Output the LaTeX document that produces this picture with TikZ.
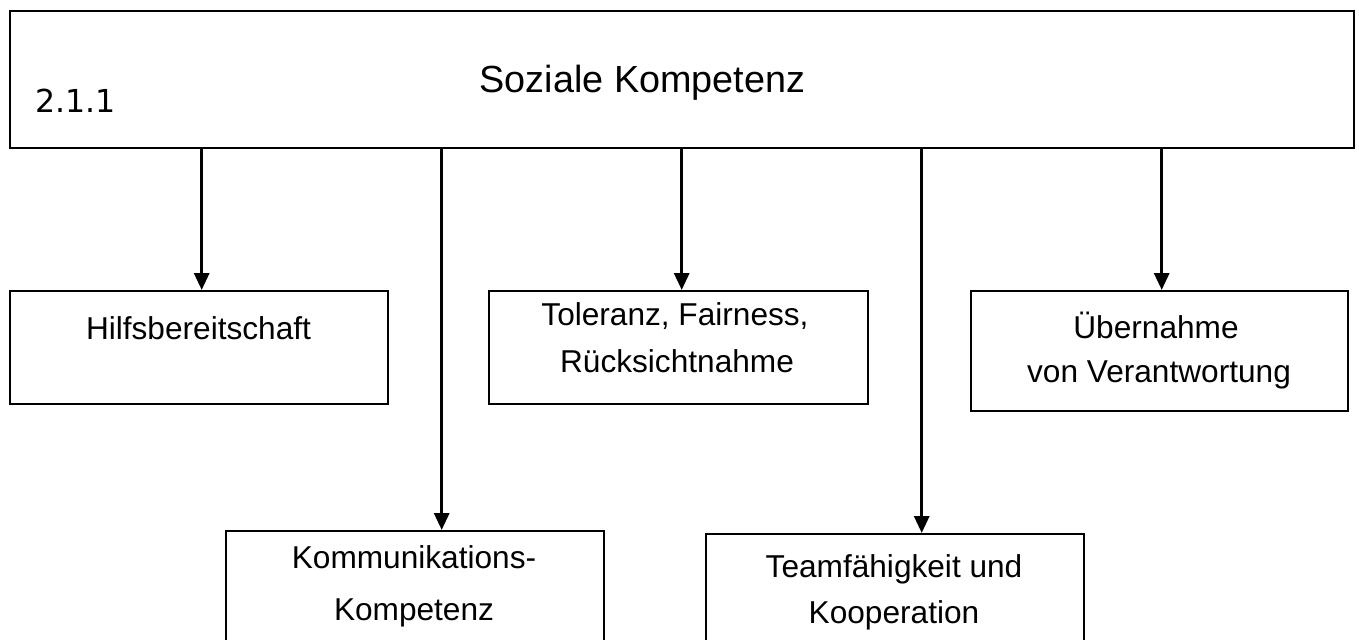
\documentclass[tikz,border=0pt]{standalone}
\usepackage{fontspec}
\setmainfont{Liberation Sans}
\newfontfamily\numfont{DejaVu Sans}
\usetikzlibrary{arrows.meta}

\begin{document}
\begin{tikzpicture}[x=0.02cm,y=-0.02cm,
	box/.style={shape=rectangle,draw=black,line width=1pt,anchor=north west,inner sep=0pt},
	lbl/.style={anchor=base,inner sep=0pt,font=\fontsize{18}{22}\selectfont},
	arr/.style={-{Triangle[length=0.34cm,width=0.3cm]},line width=1.8pt}]
	\path[use as bounding box,clip] (0,0) rectangle (1359,639);

	\node[box,minimum width=26.88cm,minimum height=2.74cm] (top) at (9,10) {};
	\node[box,minimum width=7.56cm,minimum height=2.26cm] (hilfs) at (9,290) {};
	\node[box,minimum width=7.58cm,minimum height=2.26cm] (tol) at (488,290) {};
	\node[box,minimum width=7.54cm,minimum height=2.4cm] (uebern) at (970,290) {};
	\node[box,minimum width=7.56cm,minimum height=2.6cm] (komm) at (225,530) {};
	\node[box,minimum width=7.56cm,minimum height=2.6cm] (team) at (705,533) {};

	\node[anchor=base,inner sep=0pt,font=\fontsize{21.5}{26}\selectfont] (title) at (642.5,92) {Soziale Kompetenz};
	\node[anchor=base west,inner sep=0pt,font=\numfont\fontsize{18}{21}\selectfont] (num) at (35,112) {2.1.1};
	\node[lbl] (hilfs1) at (198.5,339) {Hilfsbereitschaft};
	\node[lbl] (tol1) at (675,325) {Toleranz, Fairness,};
	\node[lbl] (tol2) at (677,372) {Rücksichtnahme};
	\node[lbl] (uebern1) at (1156,338) {Übernahme};
	\node[lbl] (uebern2) at (1159,382) {von Verantwortung};
	\node[lbl] (komm1) at (414,568) {Kommunikations-};
	\node[lbl] (komm2) at (414,620) {Kompetenz};
	\node[lbl] (team1) at (894,577) {Teamfähigkeit und};
	\node[lbl] (team2) at (894,623) {Kooperation};

	% arrow columns
	\coordinate (c1) at (201.7,0);
	\coordinate (c2) at (441.7,0);
	\coordinate (c3) at (681.7,0);
	\coordinate (c4) at (921.7,0);
	\coordinate (c5) at (1161.7,0);

	\path[arr] (c1 |- top.south) edge (c1 |- hilfs.north);
	\path[arr] (c2 |- top.south) edge (c2 |- komm.north);
	\path[arr] (c3 |- top.south) edge (c3 |- tol.north);
	\path[arr] (c4 |- top.south) edge (c4 |- team.north);
	\path[arr] (c5 |- top.south) edge (c5 |- uebern.north);
\end{tikzpicture}
\end{document}
